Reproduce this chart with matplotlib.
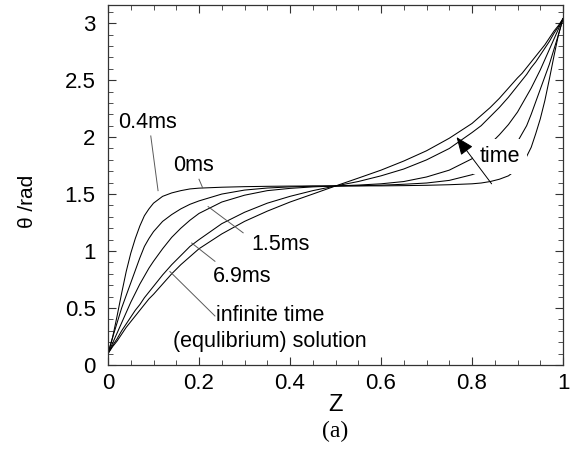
import numpy as np
import matplotlib.pyplot as plt
from matplotlib.ticker import MultipleLocator

plt.rcParams['font.family'] = ['Liberation Sans', 'DejaVu Sans']

# director angle profiles
z = [0, 0.01, 0.02, 0.03, 0.04, 0.05, 0.06, 0.07, 0.08, 0.09, 0.1, 0.12, 0.14, 0.16, 0.18, 0.2,
     0.25, 0.3, 0.35, 0.4, 0.45, 0.5, 0.55, 0.6, 0.65, 0.7, 0.75,
     0.8, 0.82, 0.84, 0.86, 0.88, 0.9, 0.91, 0.92, 0.93, 0.94, 0.95, 0.96, 0.97, 0.98, 0.99, 1.0]

theta_a = [0.10, 0.24, 0.43, 0.63, 0.82, 0.98, 1.11, 1.22, 1.31, 1.37, 1.42, 1.48, 1.51, 1.53, 1.545, 1.552,
           1.560, 1.565, 1.568, 1.570, 1.571, 1.571, 1.572, 1.572, 1.574, 1.577, 1.582,
           1.59, 1.597, 1.61, 1.63, 1.66, 1.72, 1.77, 1.83, 1.91, 2.03, 2.16, 2.32, 2.51, 2.71, 2.90, 3.04]
theta_b = [0.10, 0.24, 0.37, 0.50, 0.61, 0.72, 0.83, 0.94, 1.04, 1.11, 1.17, 1.26, 1.32, 1.37, 1.41, 1.44,
           1.50, 1.535, 1.553, 1.563, 1.569, 1.571, 1.573, 1.578, 1.586, 1.597, 1.62,
           1.67, 1.70, 1.74, 1.79, 1.86, 1.96, 2.03, 2.10, 2.20, 2.31, 2.42, 2.53, 2.64, 2.77, 2.90, 3.04]
theta_c = [0.10, 0.19, 0.28, 0.37, 0.46, 0.55, 0.63, 0.71, 0.78, 0.85, 0.91, 1.02, 1.12, 1.20, 1.27, 1.33,
           1.43, 1.49, 1.53, 1.55, 1.563, 1.571, 1.579, 1.59, 1.61, 1.65, 1.71,
           1.81, 1.87, 1.94, 2.02, 2.11, 2.22, 2.29, 2.36, 2.43, 2.51, 2.59, 2.68, 2.77, 2.86, 2.95, 3.04]
theta_d = [0.10, 0.17, 0.23, 0.30, 0.36, 0.42, 0.48, 0.53, 0.59, 0.64, 0.69, 0.79, 0.88, 0.96, 1.04, 1.10,
           1.24, 1.34, 1.42, 1.48, 1.53, 1.571, 1.61, 1.66, 1.72, 1.80, 1.90,
           2.04, 2.10, 2.18, 2.26, 2.35, 2.45, 2.50, 2.55, 2.61, 2.66, 2.72, 2.78, 2.84, 2.91, 2.97, 3.04]
theta_eq = [0.10, 0.16, 0.21, 0.27, 0.33, 0.38, 0.43, 0.48, 0.53, 0.58, 0.62, 0.71, 0.80, 0.88, 0.95, 1.02,
            1.15, 1.26, 1.35, 1.43, 1.50, 1.571, 1.64, 1.71, 1.79, 1.88, 1.99,
            2.12, 2.19, 2.26, 2.34, 2.43, 2.52, 2.56, 2.61, 2.66, 2.71, 2.76, 2.81, 2.87, 2.93, 2.98, 3.04]

profiles = [theta_a, theta_b, theta_c, theta_d, theta_eq]

fig = plt.figure(figsize=(5.76, 4.5), dpi=100)
ax = fig.add_axes([0.1875, 0.189, 0.790, 0.80])

for th in profiles:
    ax.plot(z, th, color='black', lw=0.75, zorder=2)

ax.set_xlim(0, 1)
ax.set_ylim(0, 3.16)
ax.xaxis.set_major_locator(MultipleLocator(0.2))
ax.xaxis.set_minor_locator(MultipleLocator(0.05))
ax.yaxis.set_major_locator(MultipleLocator(0.5))
ax.yaxis.set_minor_locator(MultipleLocator(0.1))
ax.xaxis.set_major_formatter(plt.FuncFormatter(lambda v, p: f"{v:g}"))
ax.yaxis.set_major_formatter(plt.FuncFormatter(lambda v, p: f"{v:g}"))
ax.tick_params(which='both', direction='in', top=True, right=True, labelsize=16, color='0.2')
ax.tick_params(which='major', length=6, width=0.8)
ax.tick_params(which='minor', length=3.5, width=0.6)
ax.tick_params(axis='y', pad=9)
ax.tick_params(axis='x', pad=6)
for s in ax.spines.values():
    s.set_linewidth(0.9)
    s.set_color('0.2')

ax.set_xlabel('Z', fontsize=17, labelpad=0)
ax.set_ylabel('θ /rad', fontsize=15)
ax.yaxis.set_label_coords(-0.156, 0.455)

# labels with leader lines
lead = dict(color='0.35', lw=0.7)
fs = 15.5
ax.text(0.022, 2.13, '0.4ms', fontsize=fs, ha='left', va='center')
ax.plot([0.094, 0.11], [2.01, 1.53], **lead)
ax.text(0.143, 1.75, '0ms', fontsize=fs, ha='left', va='center')
ax.plot([0.2, 0.208], [1.63, 1.555], **lead)
ax.text(0.316, 1.06, '1.5ms', fontsize=fs, ha='left', va='center')
ax.plot([0.22, 0.297], [1.39, 1.16], **lead)
ax.text(0.231, 0.78, '6.9ms', fontsize=fs, ha='left', va='center')
ax.plot([0.184, 0.235], [1.07, 0.91], **lead)
ax.text(0.356, 0.32, 'infinite time\n(equlibrium) solution', fontsize=fs,
        ha='center', va='center', multialignment='center', linespacing=1.3)
ax.plot([0.136, 0.235], [0.82, 0.43], **lead)

ax.text(0.862, 1.83, 'time', fontsize=fs, ha='center', va='center', zorder=4,
        bbox=dict(facecolor='white', edgecolor='none', pad=5))
ax.annotate('', xy=(0.766, 2.0), xytext=(0.843, 1.59), zorder=5,
            arrowprops=dict(arrowstyle='-|>,head_length=1.1,head_width=0.45',
                            color='black', lw=0.7, shrinkA=0, shrinkB=0))

fig.text(335 / 576, 1 - 431 / 450, '(a)', fontsize=17, family='Liberation Serif',
         ha='center', va='center')

fig.savefig('out.png', dpi=100)
